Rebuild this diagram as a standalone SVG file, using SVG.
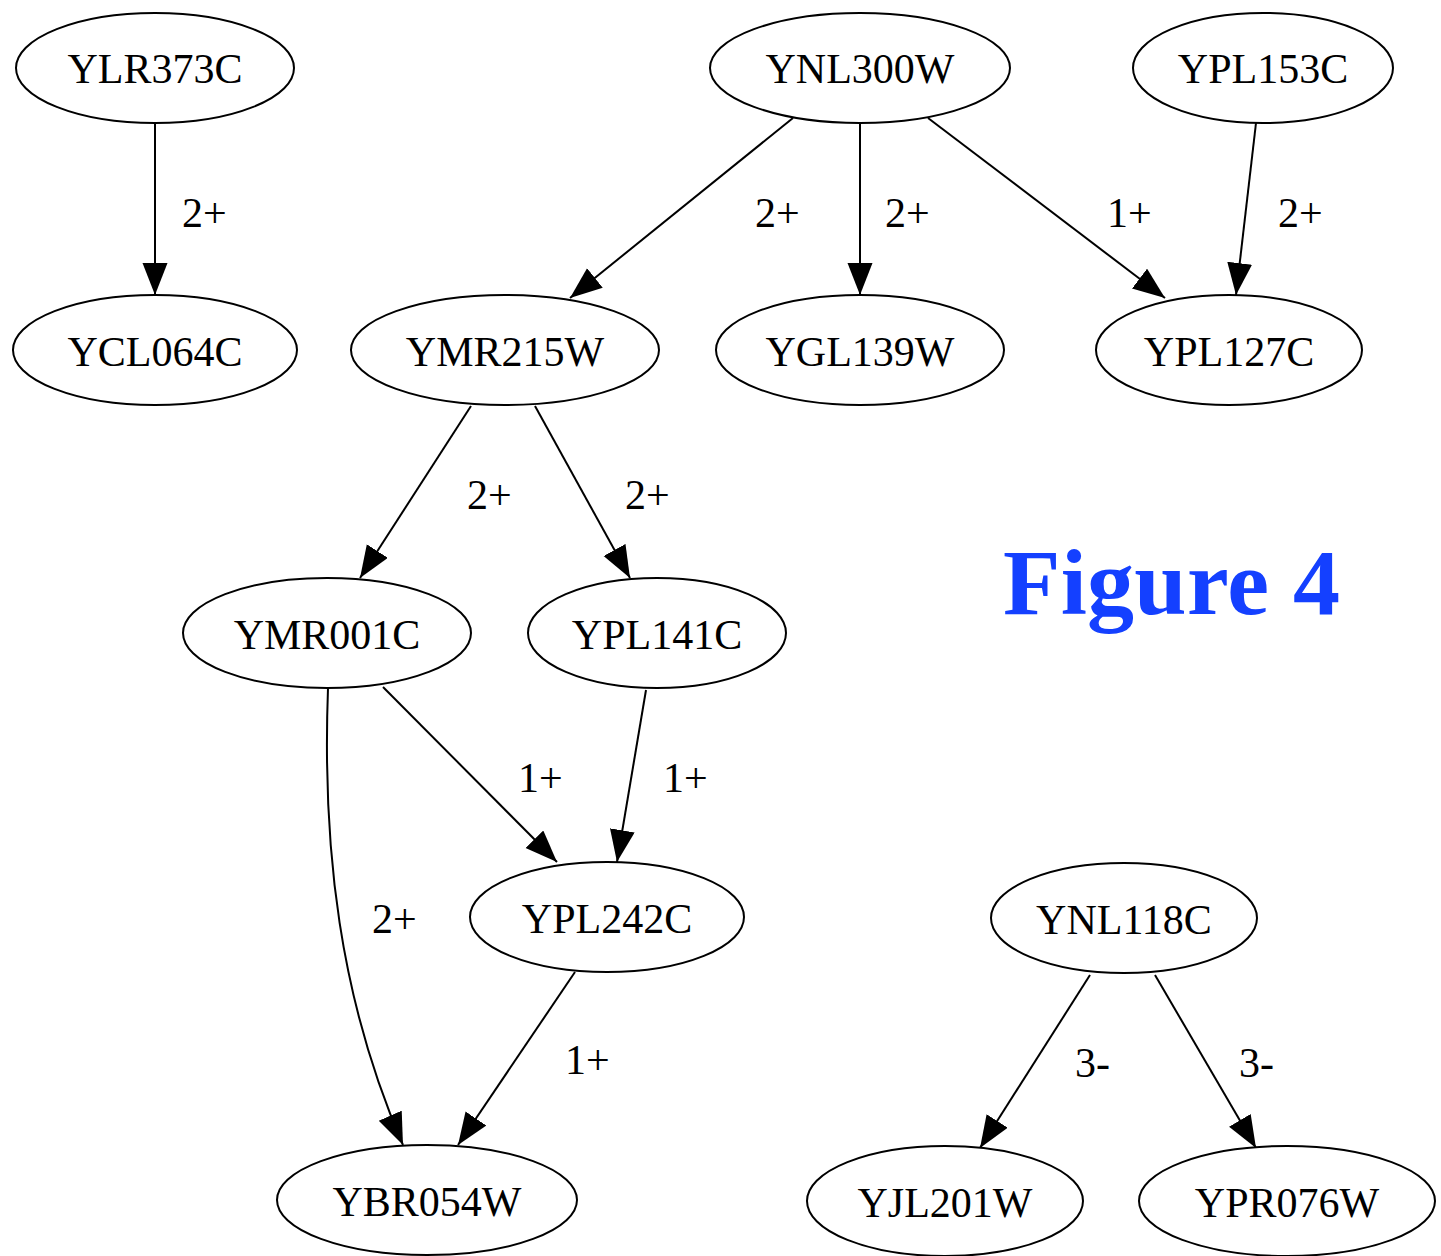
<svg xmlns="http://www.w3.org/2000/svg" width="1441" height="1256" viewBox="0 0 1441 1256">
<style>
.node ellipse{fill:#fff;stroke:#000;stroke-width:2}
.node text{font-family:"Liberation Serif","Times New Roman",serif;font-size:42px;text-anchor:middle;fill:#000}
.edge{fill:none;stroke:#000;stroke-width:2;marker-end:url(#ah)}
.lbl{font-family:"Liberation Serif","Times New Roman",serif;font-size:42px;fill:#000}
.title{font-family:"Liberation Serif","Times New Roman",serif;font-size:94px;font-weight:bold;fill:#1440ff}
</style>
<defs>
<marker id="ah" markerUnits="userSpaceOnUse" markerWidth="34" markerHeight="26" refX="32" refY="12.5" orient="auto">
<path d="M0,0 L32,12.5 L0,25 Z" fill="#000"/>
</marker>
</defs>
<rect width="1441" height="1256" fill="#fff"/>
<g id="edges">
<path class="edge" d="M155,123 L155,295"/>
<path class="edge" d="M793,118 L570,298"/>
<path class="edge" d="M860,123 L860,295"/>
<path class="edge" d="M928,118 L1165,298"/>
<path class="edge" d="M1256,123 L1236,295"/>
<path class="edge" d="M471,406 L360,578"/>
<path class="edge" d="M535,406 L630,578"/>
<path class="edge" d="M383,687 L557,862"/>
<path class="edge" d="M646,690 L617,862"/>
<path class="edge" d="M328,688 C322,850 340,1000 403,1145"/>
<path class="edge" d="M575,972 L458,1145"/>
<path class="edge" d="M1090,975 L980,1148"/>
<path class="edge" d="M1155,975 L1256,1148"/>
<text class="lbl" x="182" y="227">2+</text>
<text class="lbl" x="755" y="227">2+</text>
<text class="lbl" x="885" y="227">2+</text>
<text class="lbl" x="1107" y="227">1+</text>
<text class="lbl" x="1278" y="227">2+</text>
<text class="lbl" x="467" y="509">2+</text>
<text class="lbl" x="625" y="509">2+</text>
<text class="lbl" x="518" y="792">1+</text>
<text class="lbl" x="663" y="792">1+</text>
<text class="lbl" x="372" y="933">2+</text>
<text class="lbl" x="565" y="1074">1+</text>
<text class="lbl" x="1075" y="1077">3-</text>
<text class="lbl" x="1239" y="1077">3-</text>
</g>
<g id="YLR373C" class="node"><ellipse cx="155" cy="68" rx="139" ry="55"/><text x="155" y="83">YLR373C</text></g>
<g id="YNL300W" class="node"><ellipse cx="860" cy="68" rx="150" ry="55"/><text x="860" y="83">YNL300W</text></g>
<g id="YPL153C" class="node"><ellipse cx="1263" cy="68" rx="130" ry="55"/><text x="1263" y="83">YPL153C</text></g>
<g id="YCL064C" class="node"><ellipse cx="155" cy="350" rx="142" ry="55"/><text x="155" y="366">YCL064C</text></g>
<g id="YMR215W" class="node"><ellipse cx="505" cy="350" rx="154" ry="55"/><text x="505" y="366">YMR215W</text></g>
<g id="YGL139W" class="node"><ellipse cx="860" cy="350" rx="144" ry="55"/><text x="860" y="366">YGL139W</text></g>
<g id="YPL127C" class="node"><ellipse cx="1229" cy="350" rx="133" ry="55"/><text x="1229" y="366">YPL127C</text></g>
<g id="YMR001C" class="node"><ellipse cx="327" cy="633" rx="144" ry="55"/><text x="327" y="649">YMR001C</text></g>
<g id="YPL141C" class="node"><ellipse cx="657" cy="633" rx="129" ry="55"/><text x="657" y="649">YPL141C</text></g>
<g id="YPL242C" class="node"><ellipse cx="607" cy="917" rx="137" ry="55"/><text x="607" y="933">YPL242C</text></g>
<g id="YNL118C" class="node"><ellipse cx="1124" cy="918" rx="133" ry="55"/><text x="1124" y="934">YNL118C</text></g>
<g id="YBR054W" class="node"><ellipse cx="427" cy="1200" rx="150" ry="55"/><text x="427" y="1216">YBR054W</text></g>
<g id="YJL201W" class="node"><ellipse cx="945" cy="1201" rx="138" ry="55"/><text x="945" y="1217">YJL201W</text></g>
<g id="YPR076W" class="node"><ellipse cx="1287" cy="1201" rx="148" ry="55"/><text x="1287" y="1217">YPR076W</text></g>
<text class="title" x="1003" y="614" textLength="337" lengthAdjust="spacing">Figure 4</text>
</svg>
